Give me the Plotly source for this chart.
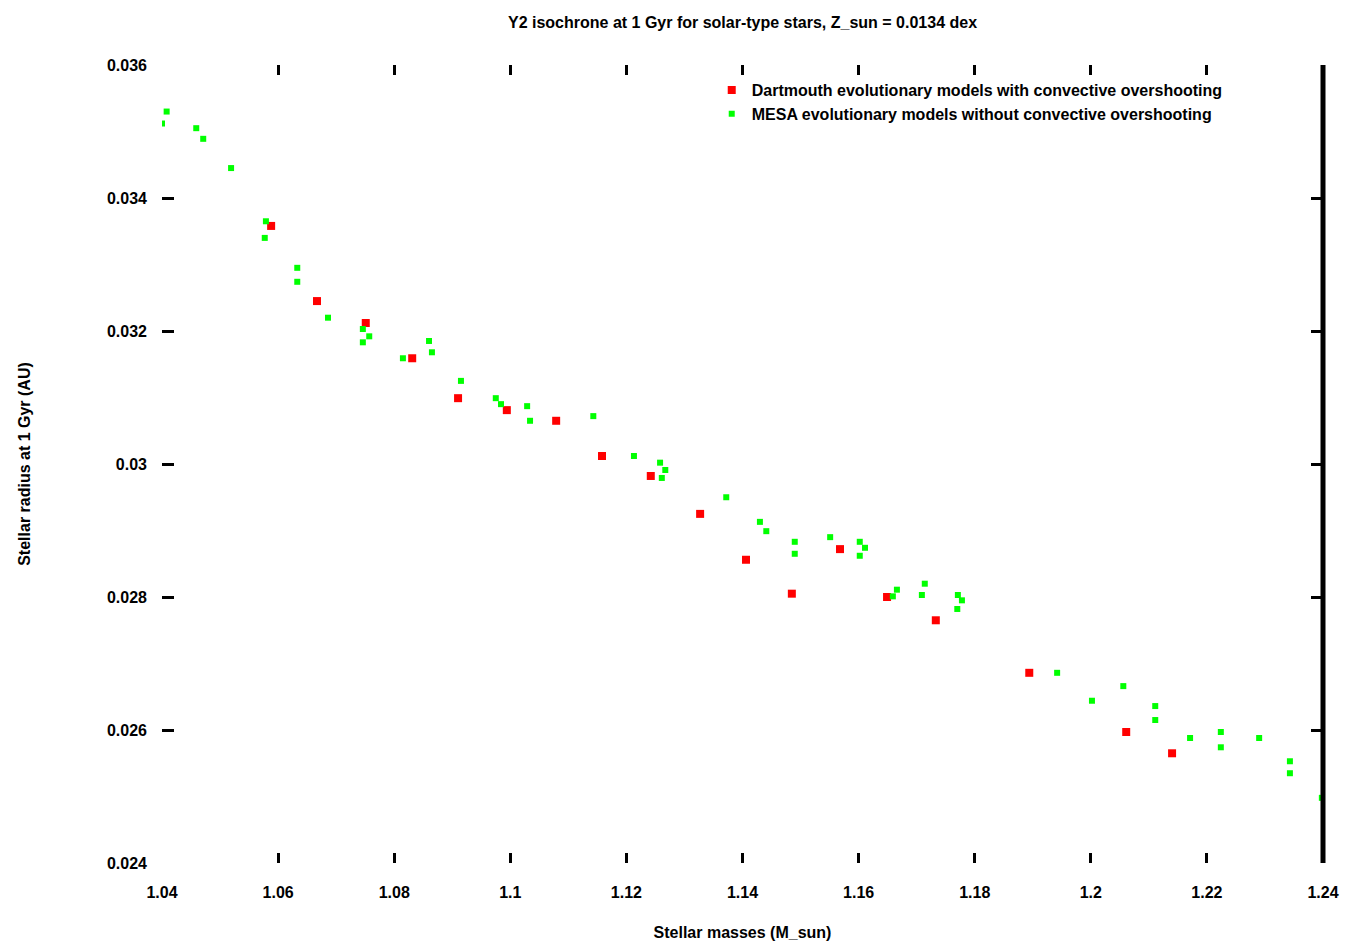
import plotly.graph_objects as go

# Red series
red_x = [1.0588, 1.0667, 1.0751, 1.0831, 1.0910, 1.0994, 1.1079, 1.1158, 1.1242,
         1.1327, 1.1406, 1.1568, 1.1485, 1.1649, 1.1733, 1.1894, 1.2061, 1.2140]
red_y = [0.03358, 0.03245, 0.03212, 0.03159, 0.03099, 0.03081, 0.03065, 0.03012, 0.02982,
         0.02925, 0.02856, 0.02872, 0.02805, 0.02800, 0.02765, 0.02686, 0.02597, 0.02565]

# Green series
green_x = [1.0408, 1.0400, 1.0459, 1.0471, 1.0519, 1.0579, 1.0577, 1.0633, 1.0633, 1.0686,
           1.0746, 1.0757, 1.0746, 1.0860, 1.0865, 1.0815, 1.0915, 1.0975, 1.0984, 1.1029,
           1.1034, 1.1143, 1.1213, 1.1258, 1.1267, 1.1261, 1.1372, 1.1430, 1.1441, 1.1490,
           1.1490, 1.1551, 1.1602, 1.1611, 1.1602, 1.1666, 1.1659, 1.1714, 1.1709, 1.1771,
           1.1778, 1.1770, 1.1942, 1.2056, 1.2002, 1.2111, 1.2111, 1.2171, 1.2224, 1.2224,
           1.2290, 1.2343, 1.2343, 1.2398]
green_y = [0.03530, 0.03512, 0.03505, 0.03489, 0.03445, 0.03365, 0.03340, 0.03295, 0.03274, 0.03220,
           0.03203, 0.03192, 0.03183, 0.03185, 0.03168, 0.03159, 0.03125, 0.03099, 0.03090, 0.03087,
           0.03065, 0.03072, 0.03012, 0.03002, 0.02991, 0.02979, 0.02950, 0.02913, 0.02899, 0.02883,
           0.02865, 0.02890, 0.02883, 0.02874, 0.02862, 0.02811, 0.02801, 0.02820, 0.02803, 0.02803,
           0.02795, 0.02782, 0.02686, 0.02666, 0.02644, 0.02636, 0.02615, 0.02588, 0.02597, 0.02574,
           0.02588, 0.02553, 0.02535, 0.02498]

x_ticks = [1.04, 1.06, 1.08, 1.1, 1.12, 1.14, 1.16, 1.18, 1.2, 1.22, 1.24]
y_ticks = [0.024, 0.026, 0.028, 0.03, 0.032, 0.034, 0.036]

title_text = "Y2 isochrone at 1 Gyr for solar-type stars, Z_sun = 0.0134 dex"
x_label = "Stellar masses (M_sun)"
y_label = "Stellar radius at 1 Gyr (AU)"
red_name = "Dartmouth evolutionary models with convective overshooting"
green_name = "MESA evolutionary models without convective overshooting"

font_family = "Liberation Sans"
bold = dict(family=font_family, size=16, color="black", weight="bold")

fig = go.Figure()
fig.add_trace(go.Scatter(
    x=red_x, y=red_y, mode="markers", name=red_name,
    marker=dict(color="#ff0000", size=8, symbol="square"),
))
fig.add_trace(go.Scatter(
    x=green_x, y=green_y, mode="markers", name=green_name,
    marker=dict(color="#00ff00", size=6, symbol="square"),
))

fig.update_layout(
    width=1358, height=946,
    paper_bgcolor="white", plot_bgcolor="white",
    margin=dict(l=154, r=43, t=57, b=91, autoexpand=False),
    font=bold,
    title=dict(text=title_text, xref="paper", x=0.5, xanchor="center",
               yref="container", y=0.985, yanchor="middle", font=bold),
    showlegend=True,
    legend=dict(x=0.4735, y=0.99, xanchor="left", yanchor="top",
                bgcolor="rgba(0,0,0,0)", font=bold),
    shapes=[dict(type="line", xref="paper", yref="paper", x0=1, x1=1, y0=0, y1=1,
                 line=dict(color="black", width=5))],
)
fig.update_xaxes(
    range=[1.04, 1.24], tickvals=x_ticks, showgrid=False, zeroline=False,
    ticks="inside", ticklen=10, tickwidth=3, tickcolor="black", mirror="ticks",
    showline=False, automargin=False, ticklabelstandoff=18,
    title=dict(text=x_label, standoff=26, font=bold),
    tickfont=bold,
)
fig.update_yaxes(
    range=[0.024, 0.036], tickvals=y_ticks, showgrid=False, zeroline=False,
    ticks="inside", ticklen=12, tickwidth=3, tickcolor="black", mirror="ticks",
    showline=False, automargin=False, ticklabelstandoff=14,
    title=dict(text=y_label, standoff=72, font=bold),
    tickfont=bold,
)

fig.write_html("out.html")
